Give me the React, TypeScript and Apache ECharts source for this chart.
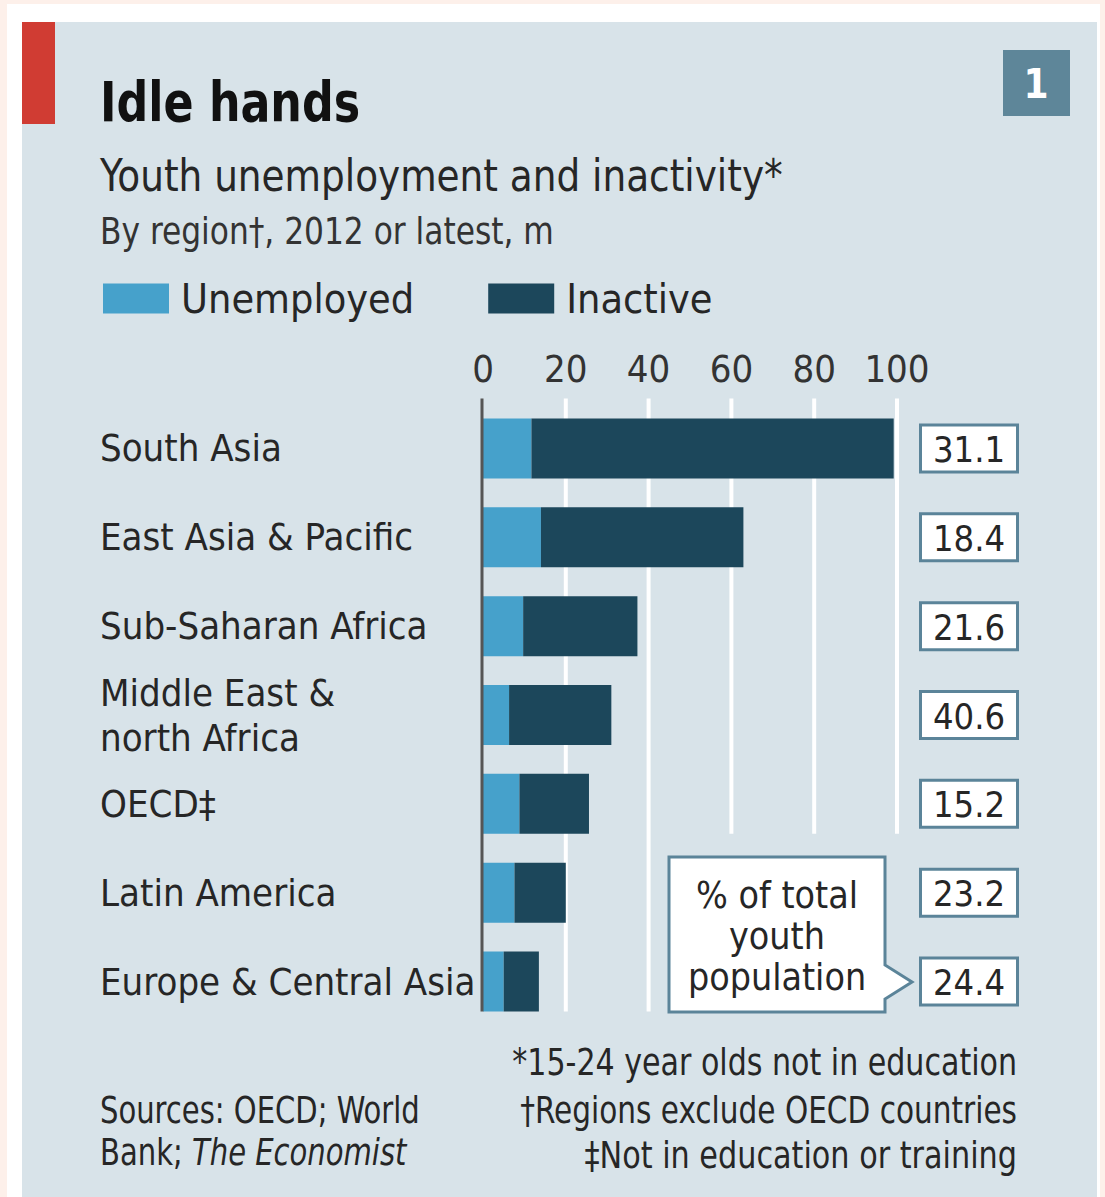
import React, { useEffect, useRef } from "react";
import * as echarts from "echarts";

const categories = [
  "South Asia",
  "East Asia & Pacific",
  "Sub-Saharan Africa",
  "Middle East &\nnorth Africa",
  "OECD‡",
  "Latin America",
  "Europe & Central Asia",
];
const unemployed = [11.7, 14.0, 9.7, 6.3, 8.8, 7.6, 5.0];
const inactive = [87.5, 48.9, 27.6, 24.7, 16.8, 12.4, 8.5];
const shareOfYouth = ["31.1", "18.4", "21.6", "40.6", "15.2", "23.2", "24.4"];
const xTicks = [0, 20, 40, 60, 80, 100];
const fullGridTicks = [20, 40];
const shortGridTicks = [60, 80, 100];

const FONT = "'Liberation Sans Narrow', 'DejaVu Sans Condensed', 'Open Sans', sans-serif";
const PANEL = "#d8e3e9";
const LIGHT = "#46a1cb";
const DARK = "#1c475b";
const BOX = "#5b8499";
const TEXT = "#262626";

function txt(text: string, x: number, y: number, size: number, sx: number, extra: any = {}, z = 6) {
  return {
    type: "text",
    z,
    x,
    y,
    scaleX: sx,
    style: {
      text,
      x: 0,
      y: 0,
      textVerticalAlign: "middle",
      fill: TEXT,
      font: `${extra.bold ? "bold " : ""}${size}px ${FONT}`,
      ...extra.style,
    },
  };
}

export default function App() {
  const ref = useRef<HTMLDivElement>(null);
  useEffect(() => {
    document.body.style.margin = "0";
    const chart = echarts.init(ref.current!, null, { renderer: "svg" });
    const baseGraphics: any[] = [
      { type: "rect", z: -100, shape: { x: 0, y: 0, width: 1105, height: 1197 }, style: { fill: "#fdf0ea" } },
      { type: "rect", z: -99, shape: { x: 7, y: 4, width: 1093, height: 1193 }, style: { fill: "#ffffff" } },
      { type: "rect", z: -98, shape: { x: 22, y: 22, width: 1075, height: 1175 }, style: { fill: PANEL } },
      { type: "rect", z: -97, shape: { x: 22, y: 22, width: 33, height: 102 }, style: { fill: "#d03c33" } },
      { type: "rect", z: 5, shape: { x: 1003, y: 50, width: 67, height: 66 }, style: { fill: "#5e8699" } },
      txt("1", 1036, 84, 40, 1, { bold: true, style: { textAlign: "center", fill: "#fff" } }),
      txt("Idle hands", 100, 101, 56, 0.88, { bold: true, style: { fill: "#111" } }),
      txt("Youth unemployment and inactivity*", 100, 176, 44, 0.945),
      txt("By region†, 2012 or latest, m", 100, 231, 38, 0.915, { style: { fill: "#333" } }),
      // footnotes
      txt("Sources: OECD; World", 100, 1110, 38, 0.85),
      txt("{a|Bank; }{i|The Economist}", 100, 1152, 38, 0.85, {
        style: {
          rich: {
            a: { fontSize: 38, fontFamily: FONT, fill: TEXT },
            i: { fontSize: 38, fontFamily: FONT, fontStyle: "italic", fill: TEXT },
          },
        },
      }),
      txt("*15-24 year olds not in education", 1017, 1062, 38, 0.88, { style: { textAlign: "right" } }),
      txt("†Regions exclude OECD countries", 1017, 1110, 38, 0.865, { style: { textAlign: "right" } }),
      txt("‡Not in education or training", 1017, 1155, 38, 0.886, { style: { textAlign: "right" } }),
      // callout
      {
        type: "polygon", z: 6,
        shape: { points: [[669, 857], [885, 857], [885, 965], [912, 982], [885, 999], [885, 1012], [669, 1012]] },
        style: { fill: "#fff", stroke: BOX, lineWidth: 3 },
      },
      txt("% of total\nyouth\npopulation", 777, 936, 38, 0.98, { style: { textAlign: "center", lineHeight: 41 } }, 7),
    ];

    const option: any = {
      animation: false,
      backgroundColor: "#fdf0ea",
      textStyle: { fontFamily: FONT },
      legend: {
        left: 98,
        top: 273,
        itemWidth: 66,
        itemHeight: 30,
        itemGap: 74,
        icon: "rect",
        textStyle: { fontSize: 41, color: TEXT, fontFamily: FONT, padding: [0, 0, 0, 7] },
        data: ["Unemployed", "Inactive"],
      },
      grid: { left: 483, width: 414, top: 404, height: 622, containLabel: false },
      xAxis: {
        type: "value",
        position: "top",
        min: 0,
        max: 100,
        interval: 20,
        axisLine: { show: false },
        axisTick: { show: false },
        splitLine: { show: false },
        axisLabel: { fontSize: 38, color: "#333", margin: 16, fontFamily: FONT, formatter: (v: number) => (xTicks.includes(v) ? String(v) : "") },
      },
      yAxis: [
        {
          type: "category",
          inverse: true,
          data: categories,
          axisLine: { show: false },
          axisTick: { show: false },
          axisLabel: { align: "left", margin: 383, fontSize: 38, lineHeight: 45, color: TEXT, fontFamily: FONT, padding: [10, 0, 0, 0] },
        },
        {
          type: "category",
          inverse: true,
          position: "right",
          data: categories,
          axisLine: { show: false },
          axisTick: { show: false },
          axisLabel: {
            align: "left",
            margin: 25,
            formatter: (_v: string, i: number) => `{b|${shareOfYouth[i]}}`,
            rich: {
              b: {
                fontSize: 36, fontFamily: FONT, color: TEXT, lineHeight: 38,
                backgroundColor: "#fff", borderColor: BOX, borderWidth: 3,
                width: 94, align: "center", padding: [5, 0, 3, 0],
              },
            },
          },
        },
      ],
      series: [
        {
          name: "Unemployed", type: "bar", stack: "t", barWidth: 60, z: 3,
          itemStyle: { color: LIGHT }, data: unemployed,
        },
        {
          name: "Inactive", type: "bar", stack: "t", barWidth: 60, z: 3,
          itemStyle: { color: DARK }, data: inactive,
        },
      ],
      graphic: { elements: baseGraphics },
    };
    chart.setOption(option);

    const yTop = (chart.convertToPixel({ yAxisIndex: 0 }, 0) as number) - 50;
    const yBottom = (chart.convertToPixel({ yAxisIndex: 0 }, categories.length - 1) as number) + 30;
    const yShort = (chart.convertToPixel({ yAxisIndex: 0 }, 4) as number) + 30;
    const lines: any[] = [];
    fullGridTicks.forEach((t) => {
      const x = chart.convertToPixel({ xAxisIndex: 0 }, t) as number;
      lines.push({ type: "line", z: 1, shape: { x1: x, y1: yTop, x2: x, y2: yBottom }, style: { stroke: "#fff", lineWidth: 4 } });
    });
    shortGridTicks.forEach((t) => {
      const x = chart.convertToPixel({ xAxisIndex: 0 }, t) as number;
      lines.push({ type: "line", z: 1, shape: { x1: x, y1: yTop, x2: x, y2: yShort }, style: { stroke: "#fff", lineWidth: 4 } });
    });
    const x0 = (chart.convertToPixel({ xAxisIndex: 0 }, 0) as number) - 1;
    lines.push({ type: "line", z: 4, shape: { x1: x0, y1: yTop, x2: x0, y2: yBottom }, style: { stroke: "#555", lineWidth: 3 } });
    chart.setOption({ graphic: { elements: [...baseGraphics, ...lines] } }, { replaceMerge: ["graphic"] });

    return () => chart.dispose();
  }, []);
  return <div ref={ref} style={{ width: 1105, height: 1197 }} />;
}
